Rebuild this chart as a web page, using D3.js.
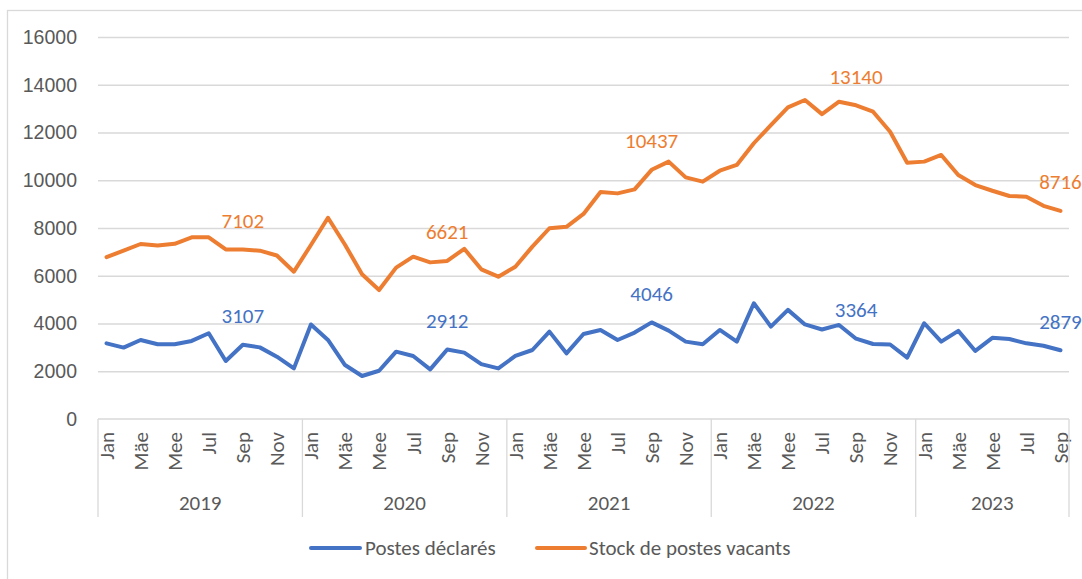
<!DOCTYPE html>
<html>
<head>
<meta charset="utf-8">
<script src="https://cdn.jsdelivr.net/npm/d3@7"></script>
<style>
  body { margin: 0; background: #fff; }
  svg { display: block; font-family: Calibri, Carlito, "Liberation Sans", Arial, sans-serif; }
</style>
</head>
<body>
<svg id="chart"></svg>
<script>
// data: monthly, Jan 2019 .. Sep 2023
const years = [2019, 2020, 2021, 2022, 2023];
const monthNames = ['Jan', 'Feb', 'Mäe', 'Abr', 'Mee', 'Jun', 'Jul', 'Aug', 'Sep', 'Okt', 'Nov', 'Dez'];
const tickMonths = ['Jan', 'Mäe', 'Mee', 'Jul', 'Sep', 'Nov'];
const yTicks = [0, 2000, 4000, 6000, 8000, 10000, 12000, 14000, 16000];

const postesDeclares = [
  3170, 2990, 3310, 3130, 3130, 3270, 3590, 2430, 3107, 3000, 2610, 2120,
  3960, 3310, 2260, 1800, 2020, 2820, 2640, 2080, 2912, 2780, 2300, 2120,
  2640, 2890, 3660, 2750, 3560, 3730, 3310, 3620, 4046, 3700, 3240, 3130,
  3730, 3240, 4850, 3870, 4570, 3960, 3750, 3940, 3364, 3140, 3120, 2570,
  4010, 3240, 3690, 2850, 3400, 3350, 3170, 3070, 2879
];
const stockVacants = [
  6780, 7050, 7330, 7270, 7340, 7610, 7610, 7100, 7102, 7050, 6850, 6170,
  7290, 8430, 7300, 6060, 5400, 6340, 6800, 6560, 6621, 7130, 6270, 5960,
  6380, 7220, 7990, 8050, 8590, 9510, 9450, 9620, 10437, 10780, 10120, 9940,
  10400, 10640, 11550, 12310, 13050, 13360, 12770, 13290, 13140, 12870, 12030, 10730,
  10780, 11060, 10220, 9800, 9560, 9340, 9310, 8930, 8716
];
// indices of the values that carry a data label (Sep of each year)
const labelIdx = [8, 20, 32, 44, 56];

const W = 1082, H = 579;
const margin = { top: 37, left: 98, right: 1082 - 1069, bottom: 579 - 419 };
const innerW = W - margin.left - margin.right;
const innerH = H - margin.top - margin.bottom;

const blue = '#4472C4', orange = '#ED7D31', grid = '#d9d9d9', txt = '#595959';
const fs = '21px';

const svg = d3.select('#chart').attr('width', W).attr('height', H);

// outer chart border (only top/left visible in frame)
svg.append('rect')
  .attr('x', 7.5).attr('y', 10.5)
  .attr('width', W + 20).attr('height', H + 20)
  .attr('fill', 'none').attr('stroke', grid).attr('stroke-width', 1.3);

const g = svg.append('g').attr('transform', `translate(${margin.left},${margin.top})`);

const months = d3.range(postesDeclares.length).map(i => ({
  i: i,
  year: years[Math.floor(i / 12)],
  name: monthNames[i % 12]
}));

const x = d3.scaleBand().domain(months.map(d => d.i)).range([0, innerW]);
const cx = i => x(i) + x.bandwidth() / 2;
const y = d3.scaleLinear().domain([0, 16000]).range([innerH, 0]);

// gridlines + y labels
const yAxis = g.append('g')
  .call(d3.axisLeft(y).tickValues(yTicks).tickSize(-innerW).tickPadding(21).tickFormat(d3.format('d')));
yAxis.select('.domain').remove();
yAxis.selectAll('.tick line').attr('stroke', grid).attr('stroke-width', 1.3);
yAxis.selectAll('.tick text').attr('fill', txt).style('font-size', '19.5px');
yAxis.select('.tick:first-of-type line').remove();

// category axis
const xg = g.append('g').attr('transform', `translate(0,${innerH})`);
xg.append('line').attr('x1', 0).attr('x2', innerW).attr('stroke', grid).attr('stroke-width', 1.3);

xg.selectAll('text.month')
  .data(months.filter(d => tickMonths.includes(d.name)))
  .join('text')
    .attr('class', 'month')
    .attr('transform', d => `translate(${cx(d.i)},13) rotate(-90)`)
    .attr('text-anchor', 'end')
    .attr('dy', '0.35em')
    .attr('fill', txt)
    .style('font-size', fs)
    .text(d => d.name);

// year separators
const yearEdges = years.map((yr, k) => x(k * 12)).concat([innerW]);
xg.selectAll('line.sep')
  .data(yearEdges)
  .join('line')
    .attr('class', 'sep')
    .attr('x1', d => d).attr('x2', d => d)
    .attr('y1', 0).attr('y2', 98)
    .attr('stroke', grid).attr('stroke-width', 1.3);

xg.selectAll('text.year')
  .data(years)
  .join('text')
    .attr('class', 'year')
    .attr('x', (d, k) => (yearEdges[k] + yearEdges[k + 1]) / 2)
    .attr('y', 84)
    .attr('dy', '0.35em')
    .attr('text-anchor', 'middle')
    .attr('fill', txt)
    .style('font-size', fs)
    .text(d => d);

// lines
const line = d3.line().x((d, i) => cx(i)).y(d => y(d));

const series = [
  { name: 'Postes déclarés', values: postesDeclares, color: blue },
  { name: 'Stock de postes vacants', values: stockVacants, color: orange }
];

g.selectAll('path.series')
  .data(series)
  .join('path')
    .attr('class', 'series')
    .attr('d', d => line(d.values))
    .attr('fill', 'none')
    .attr('stroke', d => d.color)
    .attr('stroke-width', 4)
    .attr('stroke-linejoin', 'round')
    .attr('stroke-linecap', 'round');

// data labels
series.forEach(s => {
  g.selectAll(null)
    .data(labelIdx)
    .join('text')
      .attr('x', i => cx(i))
      .attr('y', i => y(s.values[i]) - 29)
      .attr('dy', '0.35em')
      .attr('text-anchor', 'middle')
      .attr('fill', s.color)
      .style('font-size', fs)
      .text(i => s.values[i]);
});

// legend
const legendItems = [
  { x: 311, w: 49, tx: 365 },
  { x: 537, w: 48, tx: 589 }
];
const lg = svg.append('g');
series.forEach((s, k) => {
  const it = legendItems[k];
  lg.append('line')
    .attr('x1', it.x).attr('x2', it.x + it.w)
    .attr('y1', 548).attr('y2', 548)
    .attr('stroke', s.color).attr('stroke-width', 4).attr('stroke-linecap', 'round');
  lg.append('text')
    .attr('x', it.tx).attr('y', 548).attr('dy', '0.35em')
    .attr('fill', txt).style('font-size', fs)
    .text(s.name);
});
</script>
</body>
</html>
